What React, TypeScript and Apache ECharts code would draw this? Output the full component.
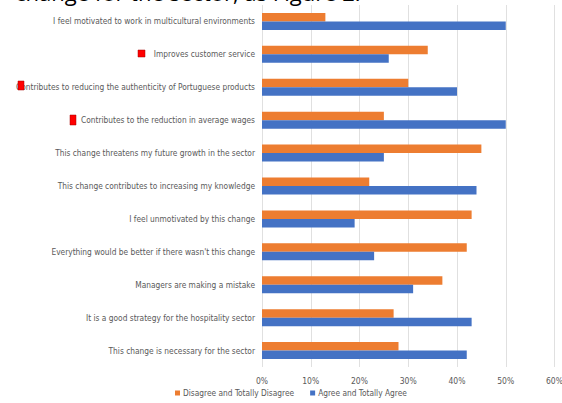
import React, { useEffect, useRef } from "react";
import * as echarts from "echarts";

const categories = [
  "I feel motivated to work in multicultural environments",
  "Improves customer service",
  "Contributes to reducing the authenticity of Portuguese products",
  "Contributes to the reduction in average wages",
  "This change threatens my future growth in the sector",
  "This change contributes to increasing my knowledge",
  "I feel unmotivated by this change",
  "Everything would be better if there wasn't this change",
  "Managers are making a mistake",
  "It is a good strategy for the hospitality sector",
  "This change is necessary for the sector",
];
const disagree = [13, 34, 30, 25, 45, 22, 43, 42, 37, 27, 28];
const agree = [50, 26, 40, 50, 25, 44, 19, 23, 31, 43, 42];
const seriesNames = ["Disagree and Totally Disagree", "Agree and Totally Agree"];
const xTicks = [0, 10, 20, 30, 40, 50, 60];

const FONT = "'DejaVu Sans Condensed', 'Liberation Sans', sans-serif";

export default function App() {
  const ref = useRef<HTMLDivElement>(null);
  useEffect(() => {
    if (!ref.current) return;
    const chart = echarts.init(ref.current, undefined, { renderer: "svg" });
    chart.setOption({
      animation: false,
      backgroundColor: "#ffffff",
      grid: {
        left: 262,
        right: 7.5,
        top: 5,
        bottom: 36,
        containLabel: false,
        outerBoundsMode: "none",
      },
      legend: {
        data: seriesNames,
        left: 175,
        top: 389,
        icon: "rect",
        itemWidth: 5,
        itemHeight: 5,
        itemGap: 16,
        padding: 0,
        textStyle: { fontFamily: FONT, fontSize: 8.3, color: "#595959", padding: [0, 0, 0, -2] },
      },
      xAxis: {
        type: "value",
        min: xTicks[0],
        max: xTicks[xTicks.length - 1],
        interval: 10,
        axisLine: { show: false },
        axisTick: { show: false },
        splitLine: { lineStyle: { color: "#e0e0e0", width: 1 } },
        axisLabel: {
          formatter: (v: number) => v + "%",
          fontFamily: FONT,
          fontSize: 8.5,
          color: "#595959",
          margin: 9,
        },
      },
      yAxis: {
        type: "category",
        data: categories,
        inverse: true,
        axisLine: { show: false },
        axisTick: { show: false },
        axisLabel: { fontFamily: FONT, fontSize: 8.3, color: "#595959", margin: 7 },
      },
      series: [
        {
          name: seriesNames[0],
          type: "bar",
          data: disagree,
          barWidth: 8.5,
          barGap: "0%",
          itemStyle: { color: "#ED7D31" },
        },
        {
          name: seriesNames[1],
          type: "bar",
          data: agree,
          barWidth: 8.5,
          barGap: "0%",
          itemStyle: { color: "#4472C4" },
        },
      ],
      graphic: [
        {
          type: "text",
          left: 15,
          top: -19,
          style: {
            text: "change for the sector, as Figure 2.",
            fontSize: 22,
            fontFamily: "'Open Sans', 'Noto Sans', sans-serif",
            fill: "#000000",
          },
          z: 10,
        },
        { type: "rect", shape: { x: 138, y: 50, width: 7, height: 7 }, style: { fill: "#ff0000", stroke: "#a00000", lineWidth: 0.5 }, z: 10 },
        { type: "rect", shape: { x: 18, y: 81, width: 6, height: 9 }, style: { fill: "#ff0000", stroke: "#a00000", lineWidth: 0.5 }, z: 10 },
        { type: "rect", shape: { x: 70, y: 115, width: 6, height: 10 }, style: { fill: "#ff0000", stroke: "#a00000", lineWidth: 0.5 }, z: 10 },
      ],
    });
    return () => chart.dispose();
  }, []);
  return (
    <div
      ref={ref}
      style={{ position: "fixed", left: 0, top: 0, width: 562, height: 403 }}
    />
  );
}
